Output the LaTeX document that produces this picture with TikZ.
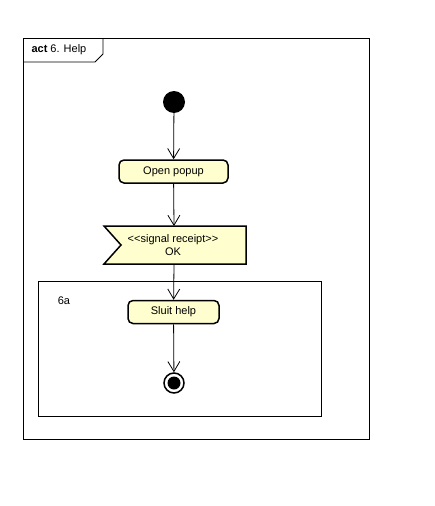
\documentclass[tikz,border=0pt]{standalone}
\usepackage{fontspec}
\setmainfont{Liberation Sans}
\usetikzlibrary{arrows.meta}
\definecolor{actfill}{HTML}{FEFECE}
\tikzset{
  txt/.style={font=\fontsize{11}{13}\selectfont},
  action/.style={draw,line width=1.5pt,fill=actfill,rounded corners=5pt,minimum height=23pt,inner sep=0pt,txt},
  flow/.style={line width=0.8pt,-{Straight Barb[length=10pt,width=12pt,line width=0.8pt]}}
}
\begin{document}
\begin{tikzpicture}[x=1pt,y=-1pt]
\useasboundingbox (0,0) rectangle (434,506);
% frame
\draw[line width=0.8pt] (23,38) rectangle (369,439);
\draw[line width=0.8pt] (23,62) -- (95,62) -- (103,54) -- (103,38);
\node[anchor=west,txt] (title) at (28,50) {\textbf{act} 6. Help};
% region
\draw[line width=0.8pt] (38,281) rectangle (321,416);
\node[txt] (reg) at (64,301) {6a};
% nodes
\node[circle,fill=black,minimum size=22pt,inner sep=0pt] (start) at (174,102) {};
\node[action,minimum width=109pt] (open) at (173.5,171.5) {Open popup};
\draw[line width=1.5pt,fill=actfill] (104,226) -- (246,226) -- (246,264) -- (104,264) -- (121,245) -- cycle;
\node[txt,align=center] (ok) at (173,245) {<{}<signal receipt>{}>\\OK};
\coordinate (oktop) at (174,226);
\coordinate (okbot) at (174,264);
\node[action,minimum width=91pt] (sluit) at (173.5,312) {Sluit help};
\node[circle,draw,line width=1.5pt,minimum size=20pt,inner sep=0pt] (end) at (174,383) {};
\fill (end) circle (6.5pt);
% flows
\draw[flow] (start) -- (open);
\draw[flow] (open) -- (oktop);
\draw[flow] (okbot) -- (sluit);
\draw[flow] (sluit) -- (end);
\end{tikzpicture}
\end{document}
